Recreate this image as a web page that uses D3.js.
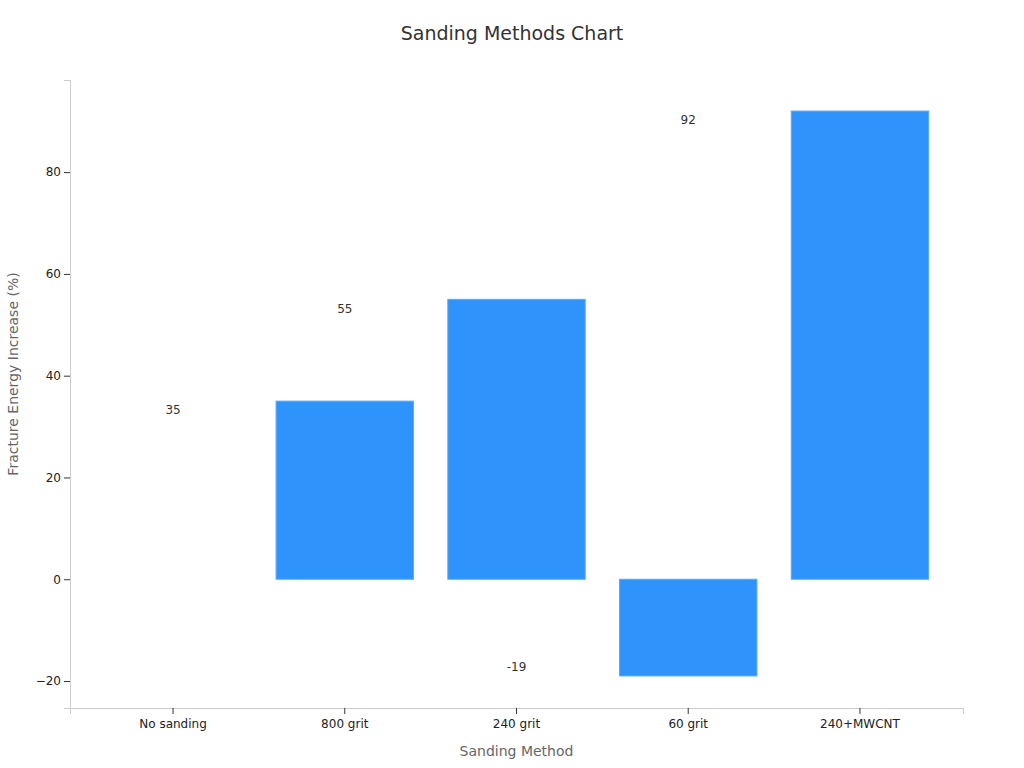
<!DOCTYPE html>
<html>
<head>
<meta charset="utf-8">
<script src="https://cdn.jsdelivr.net/npm/d3@7"></script>
<style>
  body { margin: 0; background: #fff; }
  text { font-family: "DejaVu Sans", sans-serif; }
</style>
</head>
<body>
<div class="chart"></div>
<script>
const categories = ["No sanding", "800 grit", "240 grit", "60 grit", "240+MWCNT"]
const values = [0, 35, 55, -19, 92]
const yTicks = [-20, 0, 20, 40, 60, 80]

const width = 1024
const height = 768
const margin = { top: 80, right: 61, bottom: 60, left: 70 }
const innerW = width - margin.left - margin.right
const innerH = height - margin.top - margin.bottom

const svg = d3.select(".chart").append("svg")
    .attr("width", width)
    .attr("height", height)

svg.append("text")
    .attr("x", width / 2).attr("y", 40)
    .attr("text-anchor", "middle")
    .attr("font-size", 19)
    .attr("fill", "#333")
    .text("Sanding Methods Chart")

const g = svg.append("g")
    .attr("transform", "translate(" + margin.left + "," + margin.top + ")")

const xScale = d3.scaleBand().domain(categories).range([0, innerW]).padding(0.2)
const yScale = d3.scaleLinear().domain([-25.3, 98.1]).range([innerH, 0])

// bars
g.selectAll(".bar")
    .data(values)
    .enter().append("rect")
    .attr("x", (d, i) => xScale(categories[i]))
    .attr("width", xScale.bandwidth())
    .attr("y", d => yScale(Math.max(0, d)))
    .attr("height", d => Math.abs(yScale(d) - yScale(0)))
    .attr("fill", "#2e93fa")
    .attr("stroke", d => d === 0 ? "none" : "#5aa9fb")
    .attr("stroke-width", 1)

g.selectAll(".lbl")
    .data(values)
    .enter().filter(d => d !== 0).append("text")
    .attr("x", (d, i) => xScale(categories[i]) + xScale.bandwidth() / 2)
    .attr("y", d => yScale(d) + (d >= 0 ? 9 : -9))
    .attr("dy", "0.35em")
    .attr("text-anchor", "middle")
    .attr("font-size", 12)
    .attr("fill", "#333")
    .text(d => d)

// axes
const yAxis = g.append("g").call(d3.axisLeft(yScale).tickValues(yTicks).tickSize(6).tickFormat(d3.format("")))
yAxis.select(".domain").attr("stroke", "#ccc")
yAxis.selectAll(".tick line").attr("stroke", "#333")
yAxis.selectAll(".tick text").attr("font-size", 12).attr("fill", "#222")
    .text(d => d < 0 ? "\u2212" + Math.abs(d) : d)

const xAxis = g.append("g")
    .attr("transform", "translate(0," + innerH + ")")
    .call(d3.axisBottom(xScale).tickSize(6))
xAxis.select(".domain").attr("stroke", "#ccc")
xAxis.selectAll(".tick line").attr("stroke", "#333")
xAxis.selectAll(".tick text").attr("font-size", 12).attr("fill", "#222").attr("dy", "0.9em")

svg.append("text")
    .attr("x", margin.left + innerW / 2).attr("y", 756)
    .attr("text-anchor", "middle")
    .attr("font-size", 14)
    .attr("fill", "#666")
    .text("Sanding Method")

svg.append("text")
    .attr("transform", "translate(18," + (margin.top + innerH / 2 - 20) + ") rotate(-90)")
    .attr("text-anchor", "middle")
    .attr("font-size", 14)
    .attr("fill", "#666")
    .text("Fracture Energy Increase (%)")
</script>
</body>
</html>
